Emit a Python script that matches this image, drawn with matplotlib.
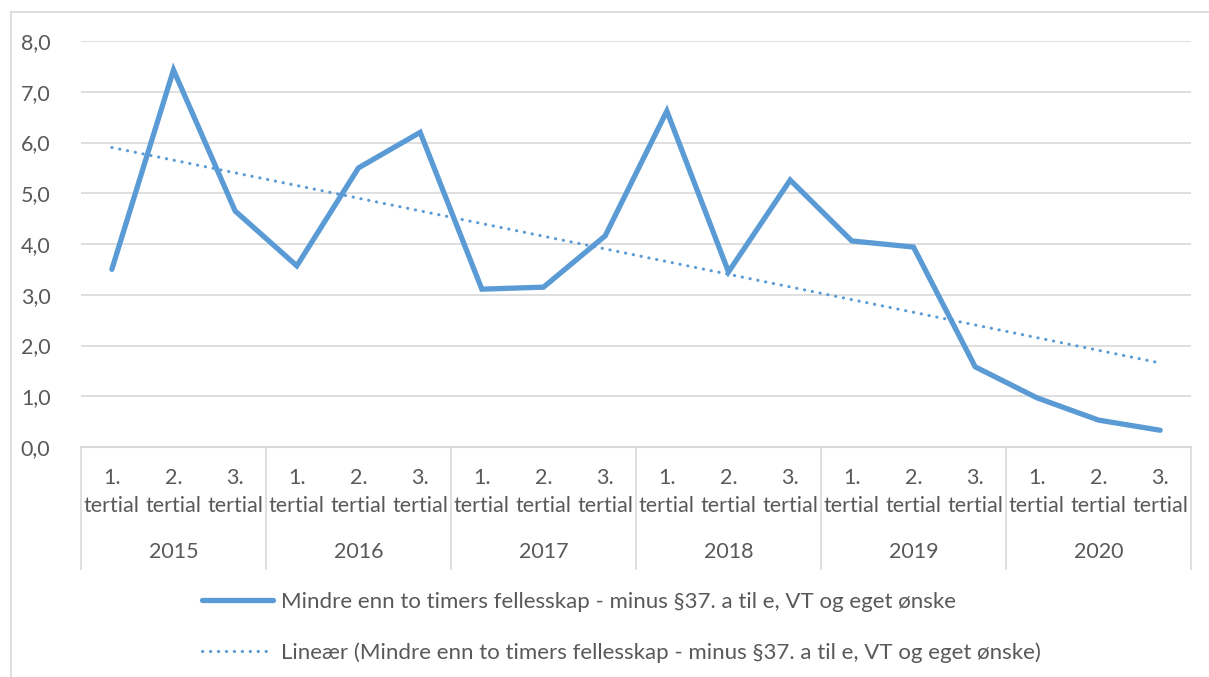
import numpy as np
import matplotlib
matplotlib.use("Agg")
import matplotlib.pyplot as plt
from matplotlib.lines import Line2D
from matplotlib.transforms import blended_transform_factory

years = ['2015', '2016', '2017', '2018', '2019', '2020']
tertials = ['1.\ntertial', '2.\ntertial', '3.\ntertial']
values = [3.50, 7.43, 4.65,
          3.57, 5.50, 6.20,
          3.11, 3.15, 4.16,
          6.62, 3.45, 5.26,
          4.06, 3.94, 1.58,
          0.97, 0.53, 0.33]
series_name = 'Mindre enn to timers fellesskap - minus §37. a til e, VT og eget ønske'
trend_name = 'Lineær (' + series_name + ')'

plt.rcParams['font.family'] = ['Lato', 'DejaVu Sans']
txt = '#595959'
grid = '#D9D9D9'
blue = '#5B9BD5'
fs = 15.5

W, H = 1209, 677
fig = plt.figure(figsize=(W / 100, H / 100), dpi=100)
ax = fig.add_axes([81 / W, 1 - 447 / H, (1191 - 81) / W, (447 - 41) / H])

x = np.arange(len(values))
ax.plot(x, values, color=blue, lw=3.8, solid_joinstyle='miter', solid_capstyle='round',
        label=series_name, zorder=3)

# linear trend line (least squares fit, like Excel)
k, m = np.polyfit(x, values, 1)
ax.plot(x, k * x + m, color=blue, lw=2.2, linestyle=(0, (0.1, 2.5)),
        dash_capstyle='round', label=trend_name, zorder=2)

ax.set_xlim(-0.5, len(values) - 0.5)
ax.set_ylim(0, 8)
ax.set_yticks(np.arange(0, 9, 1))
ax.set_yticklabels([f'{v:.1f}'.replace('.', ',') for v in range(9)])
ax.tick_params(axis='y', length=0, pad=22, labelsize=fs, labelcolor=txt)
ax.tick_params(axis='x', length=0, labelbottom=False)
for s in ['top', 'right', 'left']:
    ax.spines[s].set_visible(False)
ax.spines['bottom'].set_color(grid)
ax.spines['bottom'].set_linewidth(1.5)
ax.yaxis.grid(True, color=grid, lw=1.2)
ax.set_axisbelow(True)

# multi-level category axis
tr = blended_transform_factory(ax.transData, ax.transAxes)
unit = 406  # pixels of axes height
for i in range(len(values)):
    ax.text(i, -(492 - 447) / unit, tertials[i % 3], transform=tr, ha='center', va='center',
            fontsize=fs, color=txt, linespacing=1.5)
for j, yr in enumerate(years):
    ax.text(j * 3 + 1, -(552 - 447) / unit, yr, transform=tr, ha='center', va='center',
            fontsize=fs, color=txt)
for b in np.arange(-0.5, len(values), 3):
    ax.add_line(Line2D([b, b], [0, -(569 - 447) / unit], transform=tr, color=grid,
                       lw=1.2, clip_on=False))

# chart area border (top and left visible)
fig.add_artist(Line2D([11 / W, 11 / W], [0, 1 - 12 / H], color=grid, lw=1.2))
fig.add_artist(Line2D([11 / W, 1], [1 - 12 / H, 1 - 12 / H], color=grid, lw=1.2))

leg = ax.legend(loc='upper left', bbox_to_anchor=(202 / W, 1 - 592 / H),
                bbox_transform=fig.transFigure, frameon=False, fontsize=16,
                handlelength=3.2, handletextpad=0.35, labelspacing=1.35,
                borderpad=0, borderaxespad=0)
for t in leg.get_texts():
    t.set_color(txt)

fig.savefig('out.png', dpi=100)
